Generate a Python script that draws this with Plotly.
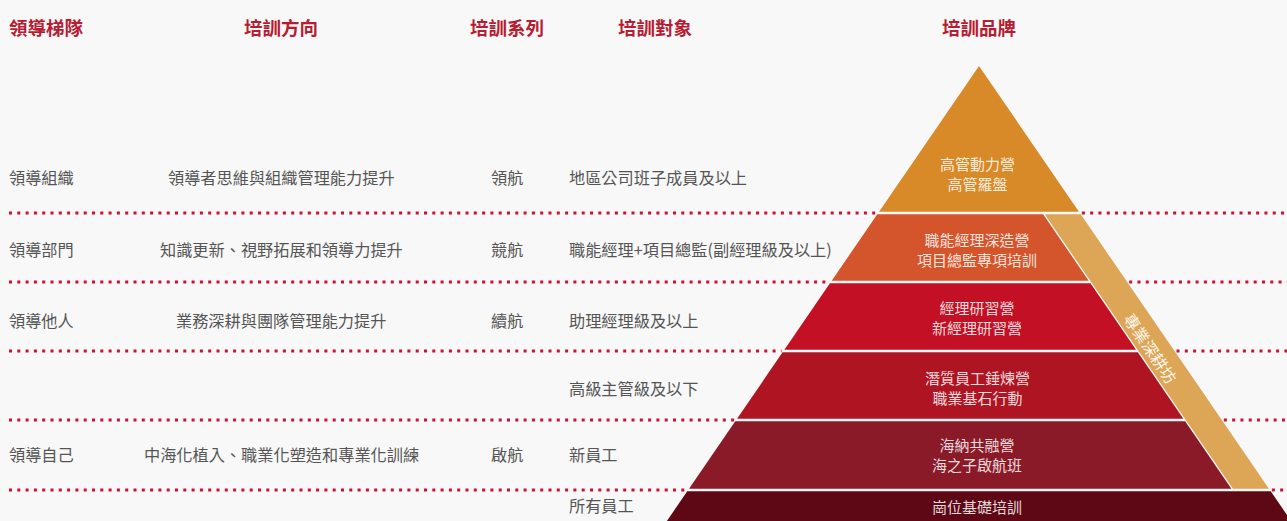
import plotly.graph_objects as go

# ---------------- data ----------------
headers = ["領導梯隊", "培訓方向", "培訓系列", "培訓對象", "培訓品牌"]
leadership = ["領導組織", "領導部門", "領導他人", "", "領導自己", ""]
directions = ["領導者思維與組織管理能力提升", "知識更新、視野拓展和領導力提升",
              "業務深耕與團隊管理能力提升", "", "中海化植入、職業化塑造和專業化訓練", ""]
series = ["領航", "競航", "續航", "", "啟航", ""]
targets = ["地區公司班子成員及以上", "職能經理+項目總監(副經理級及以上)",
           "助理經理級及以上", "高級主管級及以下", "新員工", "所有員工"]
brands = [["高管動力營", "高管羅盤"],
          ["職能經理深造營", "項目總監專項培訓"],
          ["經理研習營", "新經理研習營"],
          ["潛質員工錘煉營", "職業基石行動"],
          ["海納共融營", "海之子啟航班"],
          ["崗位基礎培訓"]]
side_brand = "專業深耕坊"

# ---------------- layout / style ----------------
W, H = 1287, 521
BG = "#F8F8F8"
level_colors = ["#D88A28", "#D4552B", "#C41024", "#AF1423", "#8A1A28", "#5E0815"]
strip_color = "#DDA656"
dot_color = "#CC1133"
text_gray = "#555555"
head_color = "#B71C32"
FONT = "Noto Sans CJK TC"

APEX_X, APEX_Y, K = 979, 66, 0.686
BOUNDS = [213, 282, 351, 420, 490]
BOTTOM = 560
GAP = 1.3
STRIP_W = 36
STRIP_GAP = 1.6

row_y = [177, 249, 320, 388, 454, 505]
band_text_y = [173.5, 249, 317, 387.5, 454.5, 506]
HEAD_Y = 27
col_x = {"lead": 7, "dir": 281, "ser": 507, "tgt": 567}
head_x = [(7, "left"), (281, "center"), (507, "center"), (655, "center"), (979, "center")]
TEXT_CX = 977


def edge_l(y):
    return APEX_X - K * (y - APEX_Y)


def edge_r(y):
    return APEX_X + K * (y - APEX_Y)


fig = go.Figure()


def poly(xs, ys, color):
    fig.add_trace(go.Scatter(x=xs + [xs[0]], y=ys + [ys[0]], fill="toself", mode="lines",
                             line=dict(width=0, color=color), fillcolor=color,
                             hoverinfo="skip", showlegend=False))


# dotted separators
for b in BOUNDS:
    fig.add_trace(go.Scatter(x=[9, edge_l(b) - 2], y=[b, b], mode="lines",
                             line=dict(color=dot_color, width=3, dash="3px,5.3px"),
                             hoverinfo="skip", showlegend=False))
    fig.add_trace(go.Scatter(x=[edge_r(b) + 2, W + 5], y=[b, b], mode="lines",
                             line=dict(color=dot_color, width=3, dash="3px,5.3px"),
                             hoverinfo="skip", showlegend=False))

# top triangle
y1 = BOUNDS[0] - GAP
poly([edge_l(y1), APEX_X, edge_r(y1)], [y1, APEX_Y, y1], level_colors[0])

# middle bands
for i in range(1, 5):
    ya = BOUNDS[i - 1] + GAP
    yb = BOUNDS[i] - GAP
    poly([edge_l(ya), edge_r(ya) - STRIP_W - STRIP_GAP, edge_r(yb) - STRIP_W - STRIP_GAP, edge_l(yb)],
         [ya, ya, yb, yb], level_colors[i])

# side strip
ya = BOUNDS[0] + GAP
yb = BOUNDS[-1] - GAP
poly([edge_r(ya) - STRIP_W, edge_r(ya), edge_r(yb), edge_r(yb) - STRIP_W],
     [ya, ya, yb, yb], strip_color)

# bottom band
ya = BOUNDS[-1] + GAP
poly([edge_l(ya), edge_r(ya), edge_r(BOTTOM), edge_l(BOTTOM)],
     [ya, ya, BOTTOM, BOTTOM], level_colors[5])

ann = []
for (x, anc), t in zip(head_x, headers):
    ann.append(dict(x=x, y=HEAD_Y, text="<b>" + t + "</b>", xanchor=anc, yanchor="middle",
                    showarrow=False, font=dict(family=FONT, size=18.5, color=head_color)))

for i in range(6):
    y = row_y[i]
    for key, arr, anc in [("lead", leadership, "left"), ("dir", directions, "center"),
                          ("ser", series, "center"), ("tgt", targets, "left")]:
        if arr[i]:
            ann.append(dict(x=col_x[key], y=y, text=arr[i], xanchor=anc, yanchor="middle",
                            showarrow=False, font=dict(family=FONT, size=16.2, color=text_gray)))
    ann.append(dict(x=TEXT_CX, y=band_text_y[i], text="<br>".join(brands[i]),
                    xanchor="center", yanchor="middle", showarrow=False,
                    font=dict(family=FONT, size=15, color="rgba(255,255,255,0.85)")))

ann.append(dict(x=1151, y=348, text=side_brand, textangle=56, xanchor="center", yanchor="middle",
                showarrow=False, font=dict(family=FONT, size=16, color="rgba(255,255,255,0.9)")))

fig.update_layout(
    width=W, height=H, margin=dict(l=0, r=0, t=0, b=0),
    paper_bgcolor=BG, plot_bgcolor=BG,
    xaxis=dict(range=[0, W], visible=False, fixedrange=True),
    yaxis=dict(range=[H, 0], visible=False, fixedrange=True),
    annotations=ann, showlegend=False,
)

fig.write_html("out.html", config={"displayModeBar": False},
               post_script="document.body.style.margin='0px';document.body.style.overflow='hidden';")
